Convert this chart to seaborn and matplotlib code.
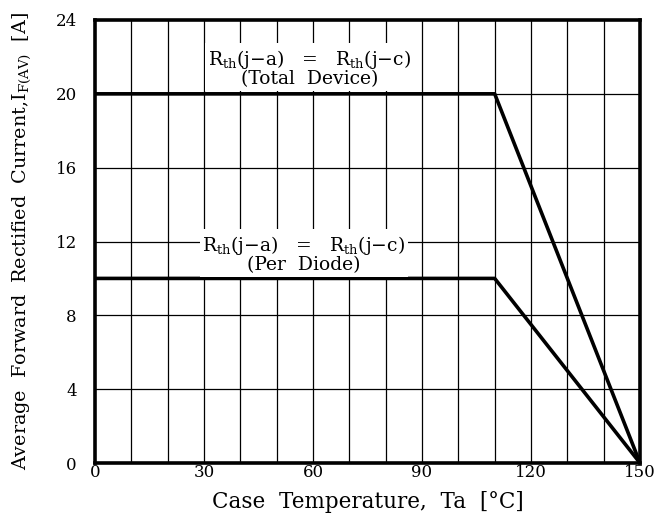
import matplotlib
matplotlib.use("Agg")
import matplotlib.pyplot as plt
import seaborn as sns
import pandas as pd

# derating curve data
case_temp = [0, 110, 150]
total_device = [20, 20, 0]
per_diode = [10, 10, 0]

x_ticks = [0, 30, 60, 90, 120, 150]
y_ticks = [0, 4, 8, 12, 16, 20, 24]

sns.set_theme(style="white")
plt.rcParams.update({
    "font.family": ["DejaVu Serif"],
    "text.color": "black",
    "mathtext.fontset": "custom",
    "mathtext.rm": "DejaVu Serif",
    "mathtext.it": "DejaVu Serif",
    "mathtext.bf": "DejaVu Serif",
})

df = pd.DataFrame({
    "temp": case_temp * 2,
    "current": total_device + per_diode,
    "curve": ["Total Device"] * 3 + ["Per Diode"] * 3,
})

fig = plt.figure(figsize=(6.62, 5.22), dpi=100)
ax = fig.add_axes([0.1435, 0.113, 0.8233, 0.8487])

# grid
for gx in range(10, 150, 10):
    ax.axvline(gx, color="black", lw=0.9, zorder=1)
for gy in range(4, 24, 4):
    ax.axhline(gy, color="black", lw=0.9, zorder=1)

sns.lineplot(data=df, x="temp", y="current", units="curve", estimator=None,
             color="black", linewidth=2.6, ax=ax, zorder=3, legend=False)

ax.set_xlim(0, 150)
ax.set_ylim(0, 24)
ax.set_xticks(x_ticks)
ax.set_yticks(y_ticks)
ax.tick_params(length=0, labelsize=12, colors="black")
ax.tick_params(axis="y", pad=13)
ax.tick_params(axis="x", pad=1)
for s in ax.spines.values():
    s.set_linewidth(2.6)
    s.set_color("black")
    s.set_zorder(4)

ax.set_xlabel("Case  Temperature,  Ta  [°C]", fontsize=15.5, color="black", labelpad=7)
ax.set_ylabel(r"Average  Forward  Rectified  Current,I$_{\mathrm{F(AV)}}$  [A]",
              fontsize=13.8, color="black", labelpad=16)

box = dict(facecolor="white", edgecolor="none", pad=2)
ax.text(59, 21.4, "R$_{th}$(j−a)   =   R$_{th}$(j−c)\n(Total  Device)", ha="center",
        va="center", fontsize=13.5, linespacing=0.95, bbox=box, zorder=5)
ax.text(57.5, 11.3, "R$_{th}$(j−a)   =   R$_{th}$(j−c)\n(Per  Diode)", ha="center",
        va="center", fontsize=13.5, linespacing=0.95, bbox=box, zorder=5)

fig.savefig("out.png", dpi=100)
